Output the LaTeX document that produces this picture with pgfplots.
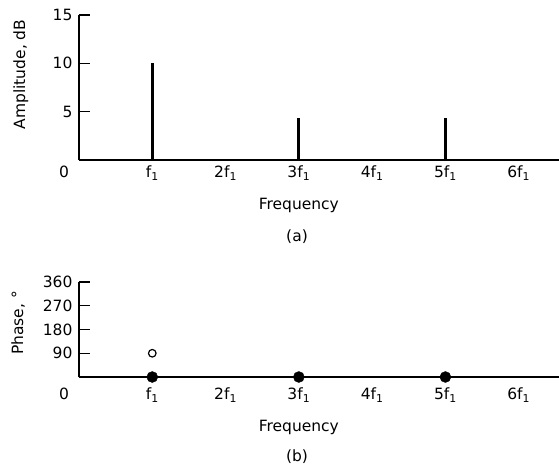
\documentclass[border=0pt]{standalone}
\usepackage{fontspec}
\setmainfont{DejaVu Sans}
\usepackage{pgfplots}
\pgfplotsset{compat=1.18}

\pgfplotsset{
  spec/.style={
    width=480pt, scale only axis,
    xmin=0, xmax=6.55, ymin=0,
    axis x line=bottom, axis y line=left,
    axis line style={-, line width=1.6pt},
    xtick={0,1,2,3,4,5,6},
    xticklabels={\makebox[0pt]{\hspace*{-30pt}0}, f\textsubscript{1}, 2f\textsubscript{1}, 3f\textsubscript{1}, 4f\textsubscript{1}, 5f\textsubscript{1}, 6f\textsubscript{1}},
    major x tick style={draw=none},
    major y tick style={line width=1.4pt, black},
    tick align=inside, major tick length=11pt,
    /pgf/number format/assume math mode=true,
    tick label style={font=\fontsize{15.5}{18}\selectfont},
    label style={font=\fontsize{15.5}{18}\selectfont},
    yticklabel style={xshift=-3pt},
    clip=false,
  }
}

\begin{document}
\begin{tikzpicture}
\useasboundingbox (0,0) rectangle (559pt,-471pt);

% (a) amplitude spectrum
\begin{axis}[spec,
    at={(79pt,-160pt)}, anchor=south west,
    height=145pt, ymax=15,
    ytick={5,10,15},
    xticklabel style={yshift=-2pt},
    ylabel={Amplitude, dB},
    ylabel style={at={(axis description cs:-0.121,0.59)}, anchor=center},
    xlabel={Frequency},
    xlabel style={at={(axis cs:3,0)}, anchor=center, yshift=-45pt},
]
\addplot[ycomb, line width=3pt, black] coordinates {(1,10) (3,4.3) (5,4.3)};
\end{axis}

% (b) phase spectrum
\begin{axis}[spec,
    at={(79pt,-377pt)}, anchor=south west,
    height=95pt, ymax=360,
    ytick={90,180,270,360},
    xticklabel style={yshift=-7pt},
    ylabel={Phase, °},
    ylabel style={at={(axis description cs:-0.127,0.57)}, anchor=center},
    xlabel={Frequency},
    xlabel style={at={(axis cs:3,0)}, anchor=center, yshift=-50pt},
]
\addplot[only marks, mark=*, mark size=5.5pt, black] coordinates {(1,0) (3,0) (5,0)};
\addplot[only marks, mark=o, mark size=3.8pt, line width=1.2pt, black] coordinates {(1,90)};
\end{axis}

\node[font=\fontsize{15.5}{18}\selectfont] at (297pt,-237pt) {(a)};
\node[font=\fontsize{15.5}{18}\selectfont] at (297pt,-457pt) {(b)};
\end{tikzpicture}
\end{document}
